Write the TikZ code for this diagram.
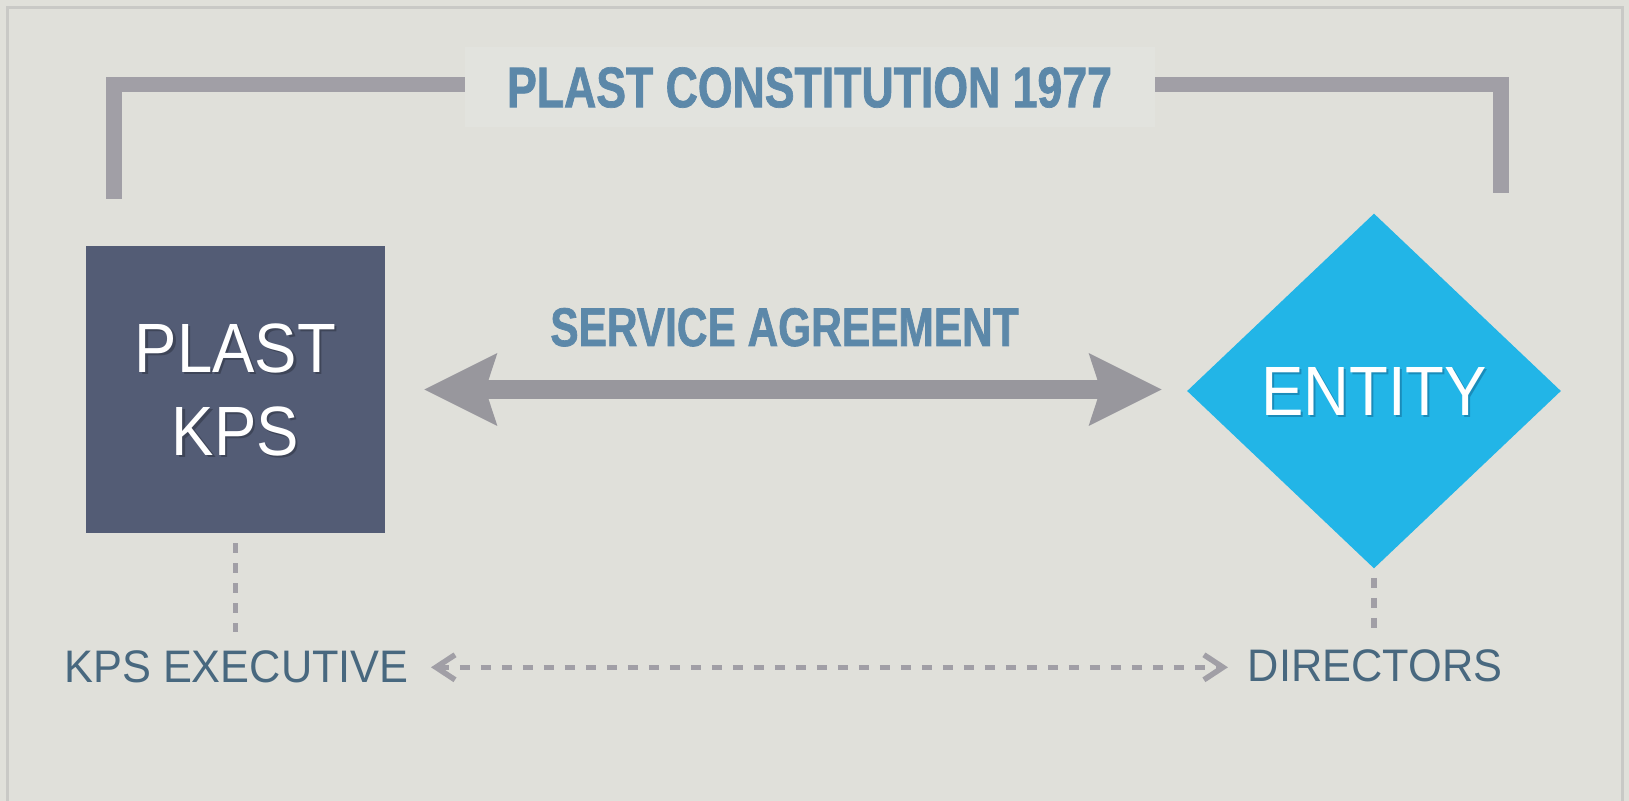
\documentclass[tikz,border=0pt]{standalone}
\usepackage{fontspec}
\setmainfont{Liberation Sans}
\newfontfamily\condbold[FakeStretch=0.78,FakeBold=1.2]{Liberation Sans}
\newfontfamily\boxfont[FakeStretch=0.91]{Liberation Sans}
\newfontfamily\lblfont[FakeStretch=0.95]{Liberation Sans}
\usetikzlibrary{arrows.meta,shapes.geometric,calc}
\definecolor{bgc}{HTML}{E0E0DA}
\definecolor{bandc}{HTML}{E2E3DE}
\definecolor{borderc}{HTML}{C9C9C6}
\definecolor{bracketc}{HTML}{A19FA6}
\definecolor{arrowc}{HTML}{98979D}
\definecolor{titlec}{HTML}{5C88A9}
\definecolor{lblc}{HTML}{48687F}
\definecolor{boxc}{HTML}{535C75}
\definecolor{diac}{HTML}{22B5E7}
\definecolor{shboxc}{HTML}{3E4558}
\definecolor{shdiac}{HTML}{1A8CBA}
\newcommand\shadowed[2]{\rlap{\smash{\kern1.1pt\raisebox{-1.3pt}{\textcolor{#1}{#2}}}}#2}
\tikzset{
  bracketline/.style={draw=bracketc, line width=7.75pt, line join=miter, line cap=butt},
  titleband/.style={fill=bandc, minimum width=345pt, minimum height=40pt, inner sep=0pt,
    font=\condbold\bfseries\fontsize{28.6pt}{30pt}\selectfont, text=titlec},
  satext/.style={inner sep=0pt, anchor=base,
    font=\condbold\bfseries\fontsize{27.2pt}{30pt}\selectfont, text=titlec},
  kpsbox/.style={rectangle, fill=boxc, minimum width=149.5pt, minimum height=143.5pt,
    inner sep=0pt, align=center, text=white,
    font=\boxfont\fontsize{34.9pt}{41.5pt}\selectfont},
  entity/.style={diamond, fill=diac, minimum width=187pt, minimum height=177.5pt,
    inner sep=0pt, text=white, font=\boxfont\fontsize{34.9pt}{41.5pt}\selectfont},
  lbl/.style={inner sep=0pt, anchor=base, text=lblc,
    font=\lblfont\fontsize{22.8pt}{26pt}\selectfont},
  bigarrow/.style={draw=arrowc, line width=9.5pt,
    {Stealth[length=36.5pt,width=36.5pt,inset=6pt,line width=0pt]}-{Stealth[length=36.5pt,width=36.5pt,inset=6pt,line width=0pt]}},
  dashv/.style={draw=bracketc, line width=2.75pt, dash pattern=on 5pt off 5pt},
  dashh/.style={draw=bracketc, line width=2.75pt, dash pattern=on 5pt off 5.5pt,
    {Straight Barb[length=9.5pt,width=12.5pt]}-{Straight Barb[length=9.5pt,width=12.5pt]}}
}
\begin{document}
\begin{tikzpicture}[x=0.5pt,y=-0.5pt]
\path[use as bounding box, fill=bgc] (0,0) rectangle (1629,801);
\draw[borderc, line width=1.5pt] (7.5,830) -- (7.5,8) -- (1622,8) -- (1622,830);
% bracket
\coordinate (bl) at (114,199);
\coordinate (br) at (1501,193);
\draw[bracketline] (bl) -- (114,84.5) -- (1501,84.5) -- (br);
\node[titleband] (title) at (809.5,87.5) {PLAST CONSTITUTION 1977};
% main shapes
\node[kpsbox] (kps) at (235.5,389.5) {\shadowed{shboxc}{PLAST}\\\shadowed{shboxc}{KPS}};
\node[entity] (ent) at (1374,391) {\shadowed{shdiac}{ENTITY}};
\node[satext] (sa) at (784.5,346) {SERVICE AGREEMENT};
\draw[bigarrow] ([xshift=19.5pt]kps.east) -- ([xshift=-12.5pt]ent.west |- kps.east);
% labels
\node[lbl] (kpsexec) at (236.5,683) {KPS EXECUTIVE};
\node[lbl] (dir) at (1375,682) {DIRECTORS};
\draw[dashv] ([yshift=-5pt]kps.south) -- ([yshift=9.5pt]kpsexec.north -| kps.south);
\draw[dashv] ([yshift=-4.5pt]ent.south) -- ([yshift=10.5pt]dir.north -| ent.south);
\draw[dashh] ([xshift=11pt]kpsexec.east) -- ([xshift=-9.75pt]dir.west |- kpsexec.east);
\end{tikzpicture}
\end{document}
